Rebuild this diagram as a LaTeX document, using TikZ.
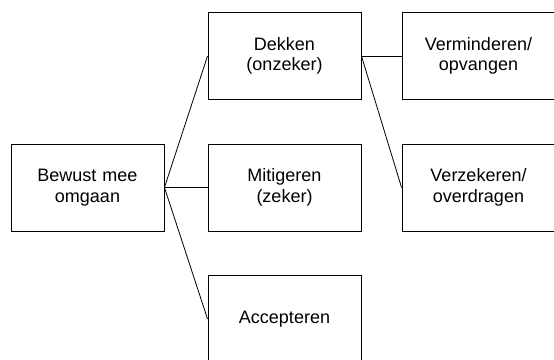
\documentclass[tikz,border=0pt]{standalone}
\usepackage{fontspec}
\setmainfont{Liberation Sans}
\begin{document}
\begin{tikzpicture}[x=1pt,y=-1pt,
  box/.style={draw, line width=0.9pt, minimum width=153pt, minimum height=87pt, align=center, inner sep=0pt,
    font=\fontsize{18}{20.5}\selectfont, text width=150pt},
  link/.style={draw, line width=0.8pt}]
\useasboundingbox (0,0) rectangle (554,359);
\clip (0,0) rectangle (554,359);
\node[box] (bew) at (87.5,187.5) {Bewust mee\\omgaan};
\node[box] (dek) at (284.5,56) {Dekken\\(onzeker)};
\node[box] (mit) at (284.5,187.5) {Mitigeren\\(zeker)};
\node[box] (acc) at (284.5,319) {Accepteren};
\node[box] (ver) at (478.5,56) {Verminderen/\\opvangen};
\node[box] (vez) at (478.5,187.5) {Verzekeren/\\overdragen};
\draw[link] (bew.east) -- (dek.west);
\draw[link] (bew.east) -- (mit.west);
\draw[link] (bew.east) -- (acc.west);
\draw[link] (dek.east) -- (ver.west);
\draw[link] (dek.east) -- (vez.west);
\end{tikzpicture}
\end{document}
